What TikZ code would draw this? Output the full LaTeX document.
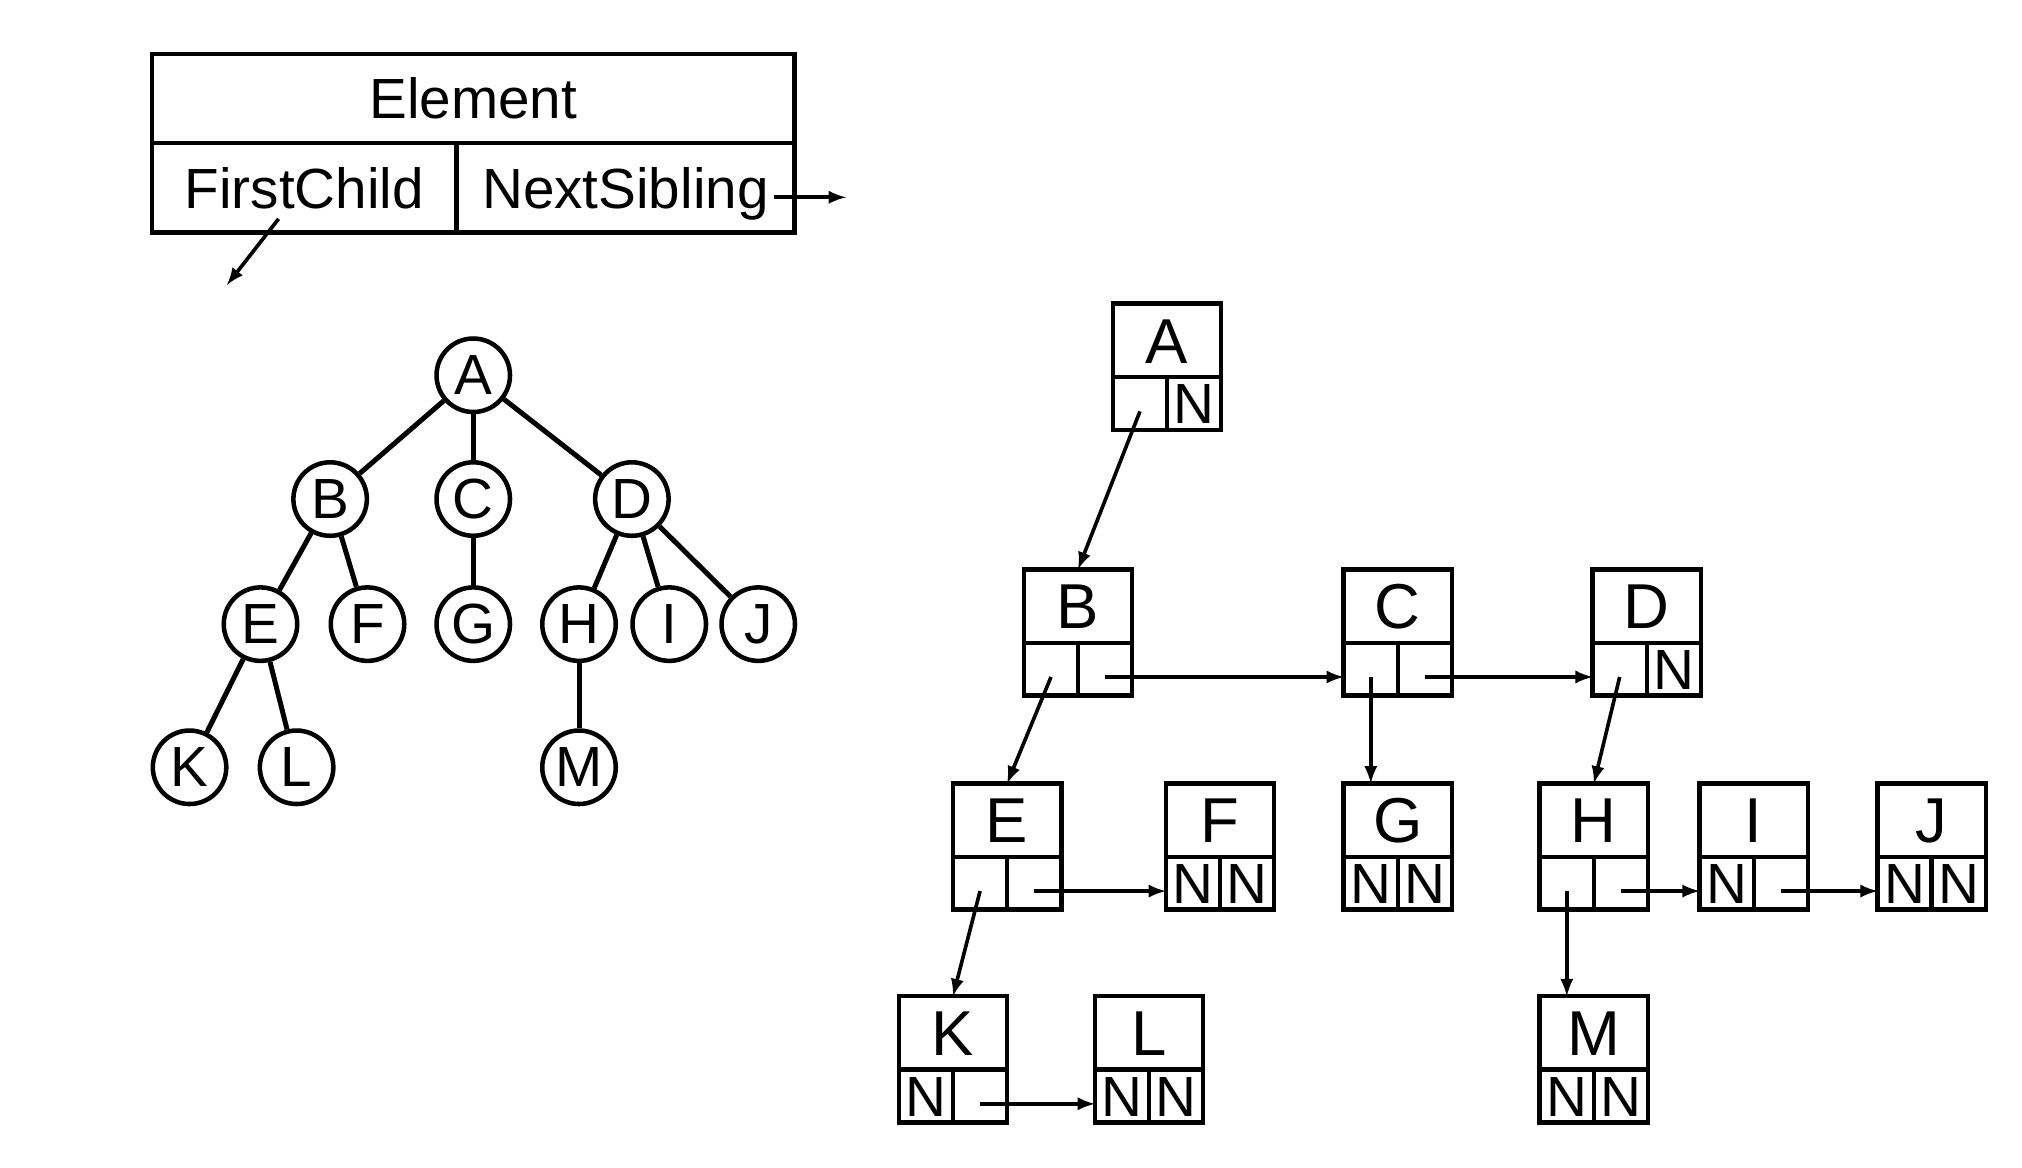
\documentclass[tikz,border=0pt]{standalone}
\usepackage{fontspec}
\setmainfont{Liberation Sans}
\usetikzlibrary{calc,positioning,arrows}

\tikzset{
	tnode/.style={draw, circle, line width=2pt, minimum size=1.14cm, inner sep=0pt, font=\fontsize{25}{25}\selectfont},
	tedge/.style={line width=2.2pt},
	tabcell/.style={draw, line width=2pt, outer sep=0pt, minimum height=1.39cm, inner sep=0pt, text height=17.9pt, text depth=0pt, font=\fontsize{25}{25}\selectfont},
	boxtop/.style={draw, line width=2pt, outer sep=0pt, minimum width=1.68cm, minimum height=1.14cm, inner sep=0pt, text height=20pt, text depth=0pt, font=\fontsize{28}{28}\selectfont},
	boxcell/.style={draw, line width=2pt, outer sep=0pt, minimum width=0.84cm, minimum height=0.82cm, inner sep=0pt, text height=17.9pt, text depth=0pt, font=\fontsize{25}{25}\selectfont},
	ptr/.style={-latex, line width=1.6pt},
	low/.style={yshift=-0.12cm},
}

% name, position, letter, first child cell, next sibling cell
\newcommand{\lcrsbox}[5]{
	\node[boxtop] at (#2) (#1) {#3};
	\node[boxcell, anchor=north east] at (#1.south) (#1l) {#4};
	\node[boxcell, anchor=north west] at (#1.south) (#1r) {#5};
}

\begin{document}
\begin{tikzpicture}[x=0.02cm, y=-0.02cm]
			\useasboundingbox (0,0) rectangle (1568,905);

			% element layout
			\node[tabcell, minimum width=9.96cm, minimum height=1.38cm] at (367,76.5) (el) {Element};
			\node[tabcell, minimum width=4.72cm, anchor=north west] at (el.south west) (fc) {FirstChild};
			\node[tabcell, minimum width=5.24cm, anchor=north east] at (el.south east) (ns) {NextSibling};
			\coordinate (fcend) at (176,221);
			\coordinate (nsend) at (656,153);
			\draw[ptr] ([shift={(-0.4cm,-0.48cm)}]fc.center) -- (fcend);
			\draw[ptr] ([xshift=-0.32cm]ns.east |- nsend) -- (nsend);

			% the tree
			\node[tnode] at (367,291) (tA) {A};
			\node[tnode] at (256,387) (tB) {B};
			\node[tnode] at (367,387) (tC) {C};
			\node[tnode] at (490,387) (tD) {D};
			\node[tnode] at (202,484) (tE) {E};
			\node[tnode] at (285,484) (tF) {F};
			\node[tnode] at (367,484) (tG) {G};
			\node[tnode] at (449,484) (tH) {H};
			\node[tnode] at (519,484) (tI) {I};
			\node[tnode] at (588,484) (tJ) {J};
			\node[tnode] at (147,595) (tK) {K};
			\node[tnode] at (230,595) (tL) {L};
			\node[tnode] at (449,595) (tM) {M};
			\draw[tedge] (tA) -- (tB);
			\draw[tedge] (tA) -- (tC);
			\draw[tedge] (tA) -- (tD);
			\draw[tedge] (tB) -- (tE);
			\draw[tedge] (tB) -- (tF);
			\draw[tedge] (tC) -- (tG);
			\draw[tedge] (tD) -- (tH);
			\draw[tedge] (tD) -- (tI);
			\draw[tedge] (tD) -- (tJ);
			\draw[tedge] (tE) -- (tK);
			\draw[tedge] (tE) -- (tL);
			\draw[tedge] (tH) -- (tM);

			% first child / next sibling boxes
			\lcrsbox{A}{905,264}{A}{}{N}
			\lcrsbox{B}{836,470}{B}{}{}
			\lcrsbox{C}{1084,470}{C}{}{}
			\lcrsbox{D}{1277,470}{D}{}{N}
			\lcrsbox{E}{781,636}{E}{}{}
			\lcrsbox{F}{946,636}{F}{N}{N}
			\lcrsbox{G}{1084,636}{G}{N}{N}
			\lcrsbox{H}{1236,636}{H}{}{}
			\lcrsbox{I}{1360,636}{I}{N}{}
			\lcrsbox{J}{1498,636}{J}{N}{N}
			\lcrsbox{K}{739,801}{K}{N}{}
			\lcrsbox{L}{891,801}{L}{N}{N}
			\lcrsbox{M}{1236,801}{M}{N}{N}

			\draw[ptr] ([low]Al.center) -- (B.north);
			\draw[ptr] ([low]Bl.center) -- (E.north);
			\draw[ptr] ([low]Br.center) -- ([low]Cl.west);
			\draw[ptr] ([low]Cl.center) -- (Cl.center |- G.north);
			\draw[ptr] ([low]Cr.center) -- ([low]Dl.west);
			\draw[ptr] ([low]Dl.center) -- (H.north);
			\draw[ptr] ([low]El.center) -- (K.north);
			\draw[ptr] ([low]Er.center) -- ([low]Fl.west);
			\draw[ptr] ([low]Hl.center) -- (Hl.center |- M.north);
			\draw[ptr] ([low]Hr.center) -- ([low]Il.west);
			\draw[ptr] ([low]Ir.center) -- ([low]Jl.west);
			\draw[ptr] ([low]Kr.center) -- ([low]Ll.west);
		\end{tikzpicture}
\end{document}
